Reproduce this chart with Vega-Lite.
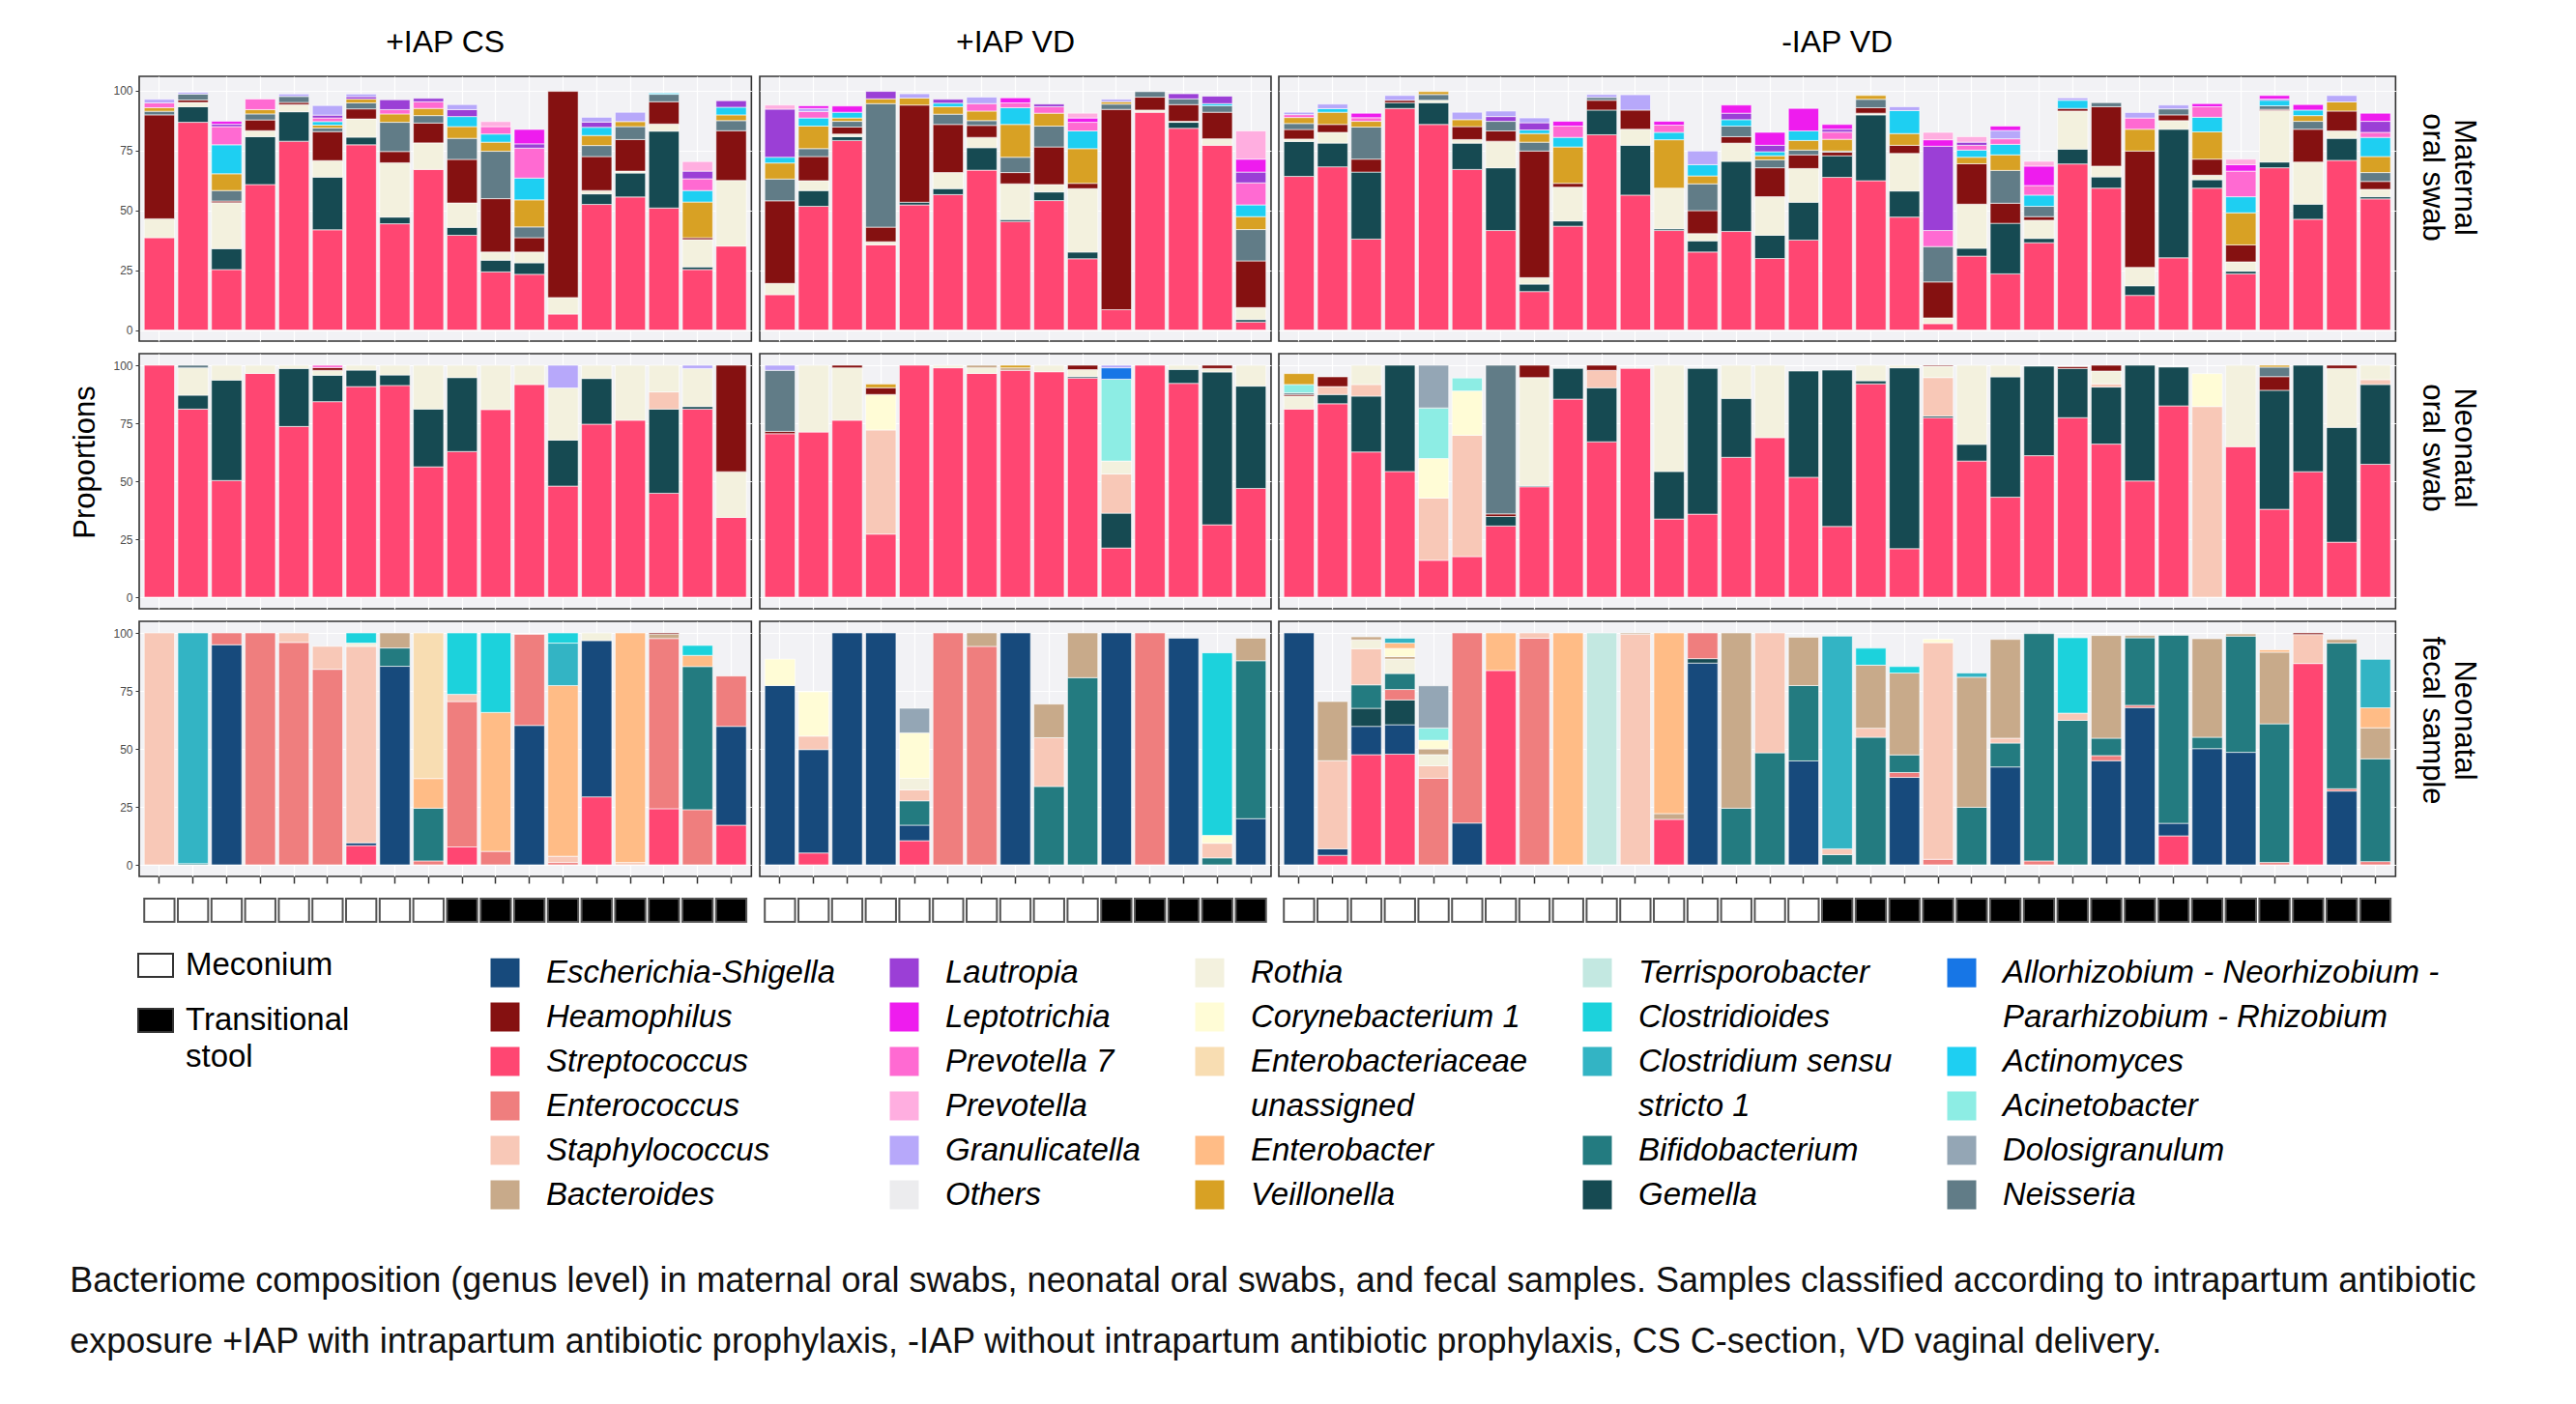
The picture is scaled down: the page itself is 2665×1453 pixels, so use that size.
{
"$schema":"https://vega.github.io/schema/vega-lite/v6.json",
"background":"white",
"padding":{"left":72,"top":27,"right":20,"bottom":20},
"config":{
 "font":"Liberation Sans",
 "view":{"stroke":"#333333","strokeWidth":1.6,"fill":"#F2F2F5"},
 "axis":{"domain":false,"gridColor":"#FFFFFF","gridWidth":1.2,"tickColor":"#333333","labelColor":"#4D4D4D","labelFontSize":12,"titleFontWeight":"normal","titleColor":"#000000","titleFontSize":31},
 "title":{"fontWeight":"normal","color":"#000000"}
},
"datasets":{
"genera":[
{"genus":"Streptococcus","level":1},{"genus":"Escherichia-Shigella","level":2},{"genus":"Gemella","level":3},{"genus":"Enterococcus","level":4},{"genus":"Bifidobacterium","level":5},{"genus":"Staphylococcus","level":6},{"genus":"Rothia","level":7},{"genus":"Bacteroides","level":8},{"genus":"Corynebacterium 1","level":9},{"genus":"Enterobacter","level":10},{"genus":"Enterobacteriaceae unassigned","level":11},{"genus":"Clostridium sensu stricto 1","level":12},{"genus":"Clostridioides","level":13},{"genus":"Terrisporobacter","level":14},{"genus":"Heamophilus","level":15},{"genus":"Neisseria","level":16},{"genus":"Acinetobacter","level":17},{"genus":"Dolosigranulum","level":18},{"genus":"Allorhizobium - Neorhizobium - Pararhizobium - Rhizobium","level":19},{"genus":"Veillonella","level":20},{"genus":"Actinomyces","level":21},{"genus":"Prevotella 7","level":22},{"genus":"Lautropia","level":23},{"genus":"Granulicatella","level":24},{"genus":"Leptotrichia","level":25},{"genus":"Prevotella","level":26},{"genus":"Others","level":27}
],
"bars":[
{"group":"+IAP CS","type":"Maternal oral swab","sample":1,"Streptococcus":38.6,"Rothia":7.9,"Heamophilus":43.4,"Neisseria":1.5,"Veillonella":1.5,"Prevotella 7":2,"Granulicatella":1.5},
{"group":"+IAP CS","type":"Maternal oral swab","sample":2,"Streptococcus":86.8,"Gemella":6.5,"Rothia":1.8,"Heamophilus":1,"Neisseria":2.5,"Granulicatella":0.7},
{"group":"+IAP CS","type":"Maternal oral swab","sample":3,"Streptococcus":25.3,"Gemella":8.7,"Rothia":19.2,"Heamophilus":0.7,"Neisseria":4.4,"Veillonella":7,"Actinomyces":12.1,"Prevotella 7":7.6,"Lautropia":1,"Leptotrichia":1.2},
{"group":"+IAP CS","type":"Maternal oral swab","sample":4,"Streptococcus":60.8,"Gemella":20,"Rothia":2.5,"Heamophilus":4.5,"Neisseria":2.5,"Veillonella":1.8,"Prevotella 7":4.4},
{"group":"+IAP CS","type":"Maternal oral swab","sample":5,"Streptococcus":78.9,"Gemella":12.3,"Rothia":3,"Heamophilus":0.9,"Neisseria":2.5,"Granulicatella":1},
{"group":"+IAP CS","type":"Maternal oral swab","sample":6,"Streptococcus":41.9,"Gemella":22,"Rothia":6.9,"Heamophilus":12.1,"Neisseria":1.5,"Veillonella":1.2,"Actinomyces":1.5,"Prevotella 7":1.5,"Lautropia":1.2,"Granulicatella":4},
{"group":"+IAP CS","type":"Maternal oral swab","sample":7,"Streptococcus":77.4,"Gemella":3.2,"Rothia":7.6,"Heamophilus":4.2,"Neisseria":2.5,"Veillonella":1.6,"Lautropia":1,"Granulicatella":1.1},
{"group":"+IAP CS","type":"Maternal oral swab","sample":8,"Streptococcus":44.4,"Gemella":2.8,"Rothia":22.7,"Heamophilus":4.7,"Neisseria":12.2,"Veillonella":3.5,"Prevotella 7":1.8,"Lautropia":4.1},
{"group":"+IAP CS","type":"Maternal oral swab","sample":9,"Streptococcus":67.1,"Rothia":11.1,"Heamophilus":8.3,"Neisseria":3.1,"Veillonella":3,"Prevotella 7":2.8,"Lautropia":1.4},
{"group":"+IAP CS","type":"Maternal oral swab","sample":10,"Streptococcus":39.6,"Gemella":3.3,"Rothia":10.2,"Heamophilus":18.2,"Neisseria":8.8,"Veillonella":4.9,"Actinomyces":4.2,"Lautropia":2.9,"Granulicatella":2.1},
{"group":"+IAP CS","type":"Maternal oral swab","sample":11,"Streptococcus":24.3,"Gemella":4.9,"Rothia":3.4,"Heamophilus":22.3,"Neisseria":19.8,"Veillonella":3.8,"Actinomyces":3.4,"Prevotella 7":3.1,"Prevotella":2.1},
{"group":"+IAP CS","type":"Maternal oral swab","sample":12,"Streptococcus":23.3,"Gemella":4.8,"Rothia":4.5,"Heamophilus":6,"Neisseria":4.5,"Veillonella":11.3,"Actinomyces":9.1,"Prevotella 7":12.5,"Lautropia":1.8,"Leptotrichia":6},
{"group":"+IAP CS","type":"Maternal oral swab","sample":13,"Streptococcus":6.7,"Rothia":6.9,"Heamophilus":86.1},
{"group":"+IAP CS","type":"Maternal oral swab","sample":14,"Streptococcus":52.5,"Gemella":4.4,"Rothia":1.4,"Heamophilus":14.2,"Neisseria":4.6,"Veillonella":4.2,"Actinomyces":3.4,"Lautropia":2.2,"Granulicatella":2},
{"group":"+IAP CS","type":"Maternal oral swab","sample":15,"Streptococcus":55.6,"Gemella":10,"Rothia":0.8,"Heamophilus":13.2,"Neisseria":5.4,"Veillonella":2.1,"Granulicatella":3.9},
{"group":"+IAP CS","type":"Maternal oral swab","sample":16,"Streptococcus":51,"Gemella":32.1,"Rothia":3,"Heamophilus":9.3,"Neisseria":3.1,"Actinomyces":0.5},
{"group":"+IAP CS","type":"Maternal oral swab","sample":17,"Streptococcus":25.3,"Gemella":1.1,"Rothia":11.4,"Heamophilus":0.8,"Veillonella":14.9,"Actinomyces":4.8,"Prevotella 7":4.9,"Lautropia":3.2,"Prevotella":4},
{"group":"+IAP CS","type":"Maternal oral swab","sample":18,"Streptococcus":35.1,"Rothia":27.4,"Heamophilus":20.8,"Neisseria":4.2,"Veillonella":2.4,"Actinomyces":3.2,"Lautropia":2.7},
{"group":"+IAP VD","type":"Maternal oral swab","sample":1,"Streptococcus":14.8,"Rothia":4.7,"Heamophilus":34.5,"Neisseria":9.1,"Veillonella":6.7,"Actinomyces":2.4,"Lautropia":20.1,"Prevotella":1.7},
{"group":"+IAP VD","type":"Maternal oral swab","sample":2,"Streptococcus":51.7,"Gemella":6.6,"Rothia":4.1,"Heamophilus":10.1,"Neisseria":3.3,"Veillonella":9.4,"Actinomyces":3.4,"Prevotella 7":2.7,"Granulicatella":1.3,"Leptotrichia":1.1},
{"group":"+IAP VD","type":"Maternal oral swab","sample":3,"Streptococcus":79.2,"Gemella":1.6,"Rothia":1.1,"Heamophilus":2.9,"Neisseria":2.4,"Veillonella":1.4,"Actinomyces":2.4,"Leptotrichia":2.6},
{"group":"+IAP VD","type":"Maternal oral swab","sample":4,"Streptococcus":35.6,"Rothia":1.3,"Heamophilus":6.1,"Neisseria":51.6,"Veillonella":2,"Lautropia":3.1},
{"group":"+IAP VD","type":"Maternal oral swab","sample":5,"Streptococcus":52.3,"Gemella":1.1,"Heamophilus":40.6,"Veillonella":2.9,"Granulicatella":1.8},
{"group":"+IAP VD","type":"Maternal oral swab","sample":6,"Streptococcus":56.6,"Gemella":2.5,"Rothia":6.7,"Heamophilus":20.1,"Neisseria":4.3,"Veillonella":3.1,"Actinomyces":1.5,"Lautropia":1.6},
{"group":"+IAP VD","type":"Maternal oral swab","sample":7,"Streptococcus":66.8,"Gemella":9.4,"Rothia":4.3,"Heamophilus":5,"Neisseria":2,"Veillonella":4,"Prevotella 7":3.1,"Granulicatella":2.7},
{"group":"+IAP VD","type":"Maternal oral swab","sample":8,"Streptococcus":45.4,"Gemella":0.8,"Rothia":14.9,"Heamophilus":4.7,"Neisseria":6.4,"Veillonella":13.7,"Actinomyces":7,"Prevotella 7":2,"Leptotrichia":2.1},
{"group":"+IAP VD","type":"Maternal oral swab","sample":9,"Streptococcus":54.1,"Gemella":3.6,"Rothia":3.1,"Heamophilus":15.7,"Neisseria":8.7,"Veillonella":5.4,"Prevotella 7":2.7,"Lautropia":1.1},
{"group":"+IAP VD","type":"Maternal oral swab","sample":10,"Streptococcus":29.8,"Gemella":2.8,"Rothia":26.5,"Heamophilus":2.2,"Veillonella":14.5,"Actinomyces":7.4,"Prevotella 7":3.6,"Leptotrichia":1.8,"Prevotella":2},
{"group":"+IAP VD","type":"Maternal oral swab","sample":11,"Streptococcus":8.5,"Heamophilus":83.7,"Neisseria":2.2,"Veillonella":1,"Granulicatella":1},
{"group":"+IAP VD","type":"Maternal oral swab","sample":12,"Streptococcus":91,"Rothia":0.9,"Heamophilus":5.4,"Neisseria":2.3},
{"group":"+IAP VD","type":"Maternal oral swab","sample":13,"Streptococcus":84.3,"Gemella":2.5,"Rothia":0.4,"Heamophilus":7,"Neisseria":2.4,"Lautropia":2.1},
{"group":"+IAP VD","type":"Maternal oral swab","sample":14,"Streptococcus":77.2,"Rothia":2.7,"Heamophilus":11.1,"Neisseria":2.7,"Actinomyces":0.9,"Lautropia":3.1},
{"group":"+IAP VD","type":"Maternal oral swab","sample":15,"Streptococcus":3.4,"Gemella":1,"Rothia":5,"Heamophilus":19.5,"Neisseria":13.1,"Veillonella":5.4,"Actinomyces":4.9,"Prevotella 7":9.2,"Lautropia":4.5,"Leptotrichia":5.4,"Prevotella":11.8},
{"group":"-IAP VD","type":"Maternal oral swab","sample":1,"Streptococcus":64.2,"Gemella":14.6,"Rothia":1,"Heamophilus":4,"Neisseria":2.5,"Veillonella":2.5,"Prevotella 7":1.2,"Granulicatella":1},
{"group":"-IAP VD","type":"Maternal oral swab","sample":2,"Streptococcus":68.2,"Gemella":9.9,"Rothia":4.5,"Heamophilus":3.3,"Veillonella":5.1,"Actinomyces":1.5,"Granulicatella":1.9},
{"group":"-IAP VD","type":"Maternal oral swab","sample":3,"Streptococcus":38,"Gemella":28,"Heamophilus":5.4,"Neisseria":13.4,"Veillonella":2.4,"Prevotella 7":1.5,"Leptotrichia":1.9},
{"group":"-IAP VD","type":"Maternal oral swab","sample":4,"Streptococcus":92.6,"Gemella":2.4,"Heamophilus":1,"Granulicatella":2},
{"group":"-IAP VD","type":"Maternal oral swab","sample":5,"Streptococcus":85.9,"Gemella":9.1,"Rothia":1,"Neisseria":2.4,"Veillonella":1.2},
{"group":"-IAP VD","type":"Maternal oral swab","sample":6,"Streptococcus":67.1,"Gemella":11,"Rothia":1.5,"Heamophilus":5.4,"Veillonella":2.9,"Granulicatella":3.1},
{"group":"-IAP VD","type":"Maternal oral swab","sample":7,"Streptococcus":41.6,"Gemella":26.2,"Rothia":11.1,"Heamophilus":4.3,"Neisseria":4,"Lautropia":2,"Granulicatella":2.3},
{"group":"-IAP VD","type":"Maternal oral swab","sample":8,"Streptococcus":16.1,"Gemella":3.1,"Rothia":2.7,"Heamophilus":52.9,"Neisseria":3.7,"Veillonella":3.6,"Actinomyces":1.5,"Lautropia":3,"Granulicatella":2},
{"group":"-IAP VD","type":"Maternal oral swab","sample":9,"Streptococcus":43.4,"Gemella":2.2,"Rothia":14.1,"Heamophilus":1.6,"Veillonella":15.2,"Actinomyces":4,"Prevotella 7":4.7,"Leptotrichia":2},
{"group":"-IAP VD","type":"Maternal oral swab","sample":10,"Streptococcus":81.6,"Gemella":10.3,"Heamophilus":4.1,"Neisseria":1.2,"Granulicatella":1.2},
{"group":"-IAP VD","type":"Maternal oral swab","sample":11,"Streptococcus":56.4,"Gemella":20.8,"Rothia":6.7,"Heamophilus":8,"Granulicatella":6.4},
{"group":"-IAP VD","type":"Maternal oral swab","sample":12,"Streptococcus":41.6,"Gemella":0.7,"Rothia":17,"Veillonella":20.2,"Actinomyces":3.1,"Prevotella 7":3,"Leptotrichia":1.6},
{"group":"-IAP VD","type":"Maternal oral swab","sample":13,"Streptococcus":32.6,"Gemella":4.7,"Rothia":3,"Heamophilus":9.6,"Neisseria":11.2,"Veillonella":3.3,"Actinomyces":4.7,"Granulicatella":5.7},
{"group":"-IAP VD","type":"Maternal oral swab","sample":14,"Streptococcus":41.2,"Gemella":29.3,"Rothia":7.6,"Heamophilus":2.7,"Neisseria":4.4,"Actinomyces":2.7,"Lautropia":2.7,"Leptotrichia":3.4},
{"group":"-IAP VD","type":"Maternal oral swab","sample":15,"Streptococcus":29.9,"Gemella":9.7,"Rothia":16.1,"Heamophilus":12.1,"Neisseria":3.3,"Veillonella":1.7,"Actinomyces":1.7,"Lautropia":2.7,"Leptotrichia":5.4},
{"group":"-IAP VD","type":"Maternal oral swab","sample":16,"Streptococcus":37.6,"Gemella":15.8,"Rothia":14.1,"Heamophilus":5.7,"Neisseria":2,"Veillonella":4,"Actinomyces":4,"Leptotrichia":9.4},
{"group":"-IAP VD","type":"Maternal oral swab","sample":17,"Streptococcus":63.8,"Gemella":9,"Heamophilus":1.5,"Neisseria":0.5,"Veillonella":4.9,"Prevotella 7":3,"Lautropia":1.2,"Leptotrichia":2},
{"group":"-IAP VD","type":"Maternal oral swab","sample":18,"Streptococcus":62.4,"Gemella":27.5,"Rothia":0.7,"Heamophilus":2.3,"Neisseria":3.5,"Veillonella":1.6},
{"group":"-IAP VD","type":"Maternal oral swab","sample":19,"Streptococcus":47.2,"Gemella":10.9,"Rothia":15.7,"Heamophilus":3.4,"Veillonella":4.9,"Actinomyces":9.6,"Granulicatella":1.6},
{"group":"-IAP VD","type":"Maternal oral swab","sample":20,"Streptococcus":2.7,"Rothia":2.4,"Heamophilus":15,"Neisseria":14.8,"Prevotella 7":6.7,"Lautropia":35.2,"Leptotrichia":2.7,"Prevotella":3.1},
{"group":"-IAP VD","type":"Maternal oral swab","sample":21,"Streptococcus":30.9,"Gemella":3.3,"Rothia":18.4,"Heamophilus":16.9,"Veillonella":2.7,"Actinomyces":3,"Prevotella 7":2,"Lautropia":1.3,"Prevotella":2.3},
{"group":"-IAP VD","type":"Maternal oral swab","sample":22,"Streptococcus":23.5,"Gemella":21.1,"Heamophilus":8.4,"Neisseria":13.7,"Veillonella":6.5,"Actinomyces":4.4,"Prevotella 7":2.3,"Granulicatella":3.5,"Leptotrichia":1.8},
{"group":"-IAP VD","type":"Maternal oral swab","sample":23,"Streptococcus":36.5,"Gemella":1.8,"Rothia":7.6,"Heamophilus":1.5,"Neisseria":4.3,"Actinomyces":4.7,"Prevotella 7":4,"Leptotrichia":8.1,"Prevotella":2},
{"group":"-IAP VD","type":"Maternal oral swab","sample":24,"Streptococcus":69.4,"Gemella":6.2,"Rothia":15.9,"Heamophilus":1.1,"Actinomyces":3.4,"Granulicatella":1},
{"group":"-IAP VD","type":"Maternal oral swab","sample":25,"Streptococcus":59.3,"Gemella":4.7,"Rothia":4.5,"Heamophilus":24.8,"Neisseria":1.7},
{"group":"-IAP VD","type":"Maternal oral swab","sample":26,"Streptococcus":14.5,"Gemella":4,"Rothia":7.7,"Heamophilus":48.6,"Veillonella":9.1,"Prevotella 7":4.7,"Granulicatella":2.3},
{"group":"-IAP VD","type":"Maternal oral swab","sample":27,"Streptococcus":30.2,"Gemella":53.7,"Rothia":3.6,"Heamophilus":2.4,"Neisseria":2.5,"Granulicatella":1.6},
{"group":"-IAP VD","type":"Maternal oral swab","sample":28,"Streptococcus":59.3,"Gemella":3.5,"Rothia":1.9,"Heamophilus":6.7,"Veillonella":11.4,"Actinomyces":6.1,"Prevotella 7":4.4,"Leptotrichia":1.3},
{"group":"-IAP VD","type":"Maternal oral swab","sample":29,"Streptococcus":23.5,"Gemella":1.1,"Rothia":3.9,"Heamophilus":7.1,"Veillonella":13.4,"Actinomyces":6.7,"Prevotella 7":10.7,"Leptotrichia":2.7,"Prevotella":2.3},
{"group":"-IAP VD","type":"Maternal oral swab","sample":30,"Streptococcus":67.8,"Gemella":2.4,"Rothia":21.5,"Heamophilus":0.5,"Neisseria":1.5,"Actinomyces":2.3,"Lautropia":0.5,"Leptotrichia":1.5},
{"group":"-IAP VD","type":"Maternal oral swab","sample":31,"Streptococcus":46.3,"Gemella":6.3,"Rothia":17.6,"Heamophilus":13.7,"Neisseria":3.3,"Veillonella":2.4,"Actinomyces":2.3,"Leptotrichia":2.3},
{"group":"-IAP VD","type":"Maternal oral swab","sample":32,"Streptococcus":70.9,"Gemella":9.2,"Rothia":3.1,"Heamophilus":8.3,"Veillonella":3.8,"Granulicatella":2.7},
{"group":"-IAP VD","type":"Maternal oral swab","sample":33,"Streptococcus":54.8,"Gemella":0.9,"Rothia":3.1,"Heamophilus":3.3,"Neisseria":3.7,"Veillonella":6.7,"Actinomyces":8,"Prevotella 7":2.1,"Lautropia":4.6,"Leptotrichia":3.4},
{"group":"+IAP CS","type":"Neonatal oral swab","sample":1,"Streptococcus":100},
{"group":"+IAP CS","type":"Neonatal oral swab","sample":2,"Streptococcus":81.1,"Gemella":6,"Rothia":11.8,"Neisseria":1.1},
{"group":"+IAP CS","type":"Neonatal oral swab","sample":3,"Streptococcus":50.3,"Gemella":43.3,"Rothia":6.4},
{"group":"+IAP CS","type":"Neonatal oral swab","sample":4,"Streptococcus":96.5,"Rothia":3.5},
{"group":"+IAP CS","type":"Neonatal oral swab","sample":5,"Streptococcus":73.6,"Gemella":25,"Rothia":1.4},
{"group":"+IAP CS","type":"Neonatal oral swab","sample":6,"Streptococcus":84.3,"Gemella":11.4,"Rothia":2.1,"Heamophilus":1.2,"Prevotella 7":1},
{"group":"+IAP CS","type":"Neonatal oral swab","sample":7,"Streptococcus":90.8,"Gemella":7.1,"Rothia":2.1},
{"group":"+IAP CS","type":"Neonatal oral swab","sample":8,"Streptococcus":91.3,"Gemella":4.5,"Rothia":4.2},
{"group":"+IAP CS","type":"Neonatal oral swab","sample":9,"Streptococcus":56.2,"Gemella":24.9,"Rothia":18.9},
{"group":"+IAP CS","type":"Neonatal oral swab","sample":10,"Streptococcus":62.8,"Gemella":31.9,"Rothia":5.3},
{"group":"+IAP CS","type":"Neonatal oral swab","sample":11,"Streptococcus":80.9,"Rothia":19.1},
{"group":"+IAP CS","type":"Neonatal oral swab","sample":12,"Streptococcus":91.7,"Rothia":8.3},
{"group":"+IAP CS","type":"Neonatal oral swab","sample":13,"Streptococcus":47.9,"Gemella":19.8,"Rothia":22.5,"Granulicatella":9.8},
{"group":"+IAP CS","type":"Neonatal oral swab","sample":14,"Streptococcus":74.6,"Gemella":19.7,"Rothia":5.7},
{"group":"+IAP CS","type":"Neonatal oral swab","sample":15,"Streptococcus":76.3,"Rothia":23.7},
{"group":"+IAP CS","type":"Neonatal oral swab","sample":16,"Streptococcus":44.8,"Gemella":36.3,"Staphylococcus":7.4,"Rothia":11.5},
{"group":"+IAP CS","type":"Neonatal oral swab","sample":17,"Streptococcus":81.1,"Gemella":1.1,"Rothia":16.4,"Granulicatella":1.4},
{"group":"+IAP CS","type":"Neonatal oral swab","sample":18,"Streptococcus":34.4,"Rothia":19.7,"Heamophilus":45.9},
{"group":"+IAP VD","type":"Neonatal oral swab","sample":1,"Streptococcus":70.5,"Neisseria":26.3,"Heamophilus":1,"Granulicatella":2.2},
{"group":"+IAP VD","type":"Neonatal oral swab","sample":2,"Streptococcus":71.2,"Rothia":28.8},
{"group":"+IAP VD","type":"Neonatal oral swab","sample":3,"Streptococcus":76.3,"Rothia":22.6,"Heamophilus":1.1},
{"group":"+IAP VD","type":"Neonatal oral swab","sample":4,"Streptococcus":27.2,"Staphylococcus":44.9,"Corynebacterium 1":15.3,"Heamophilus":2.9,"Veillonella":1.6},
{"group":"+IAP VD","type":"Neonatal oral swab","sample":5,"Streptococcus":100},
{"group":"+IAP VD","type":"Neonatal oral swab","sample":6,"Streptococcus":98.9,"Rothia":1.1},
{"group":"+IAP VD","type":"Neonatal oral swab","sample":7,"Streptococcus":96.5,"Rothia":2.4,"Bacteroides":1.1},
{"group":"+IAP VD","type":"Neonatal oral swab","sample":8,"Streptococcus":97.8,"Veillonella":1.1,"Bacteroides":1.1},
{"group":"+IAP VD","type":"Neonatal oral swab","sample":9,"Streptococcus":97.2,"Rothia":2.8},
{"group":"+IAP VD","type":"Neonatal oral swab","sample":10,"Streptococcus":94.5,"Gemella":0.6,"Rothia":3,"Heamophilus":1.9},
{"group":"+IAP VD","type":"Neonatal oral swab","sample":11,"Streptococcus":21.2,"Gemella":15,"Staphylococcus":16.9,"Rothia":5.6,"Acinetobacter":35.3,"Allorhizobium - Neorhizobium - Pararhizobium - Rhizobium":4.9,"Granulicatella":1.1},
{"group":"+IAP VD","type":"Neonatal oral swab","sample":12,"Streptococcus":100},
{"group":"+IAP VD","type":"Neonatal oral swab","sample":13,"Streptococcus":92.2,"Gemella":6,"Rothia":1.8},
{"group":"+IAP VD","type":"Neonatal oral swab","sample":14,"Streptococcus":31.2,"Gemella":65.9,"Rothia":1.5,"Heamophilus":1.4},
{"group":"+IAP VD","type":"Neonatal oral swab","sample":15,"Streptococcus":46.9,"Gemella":44.1,"Rothia":9},
{"group":"-IAP VD","type":"Neonatal oral swab","sample":1,"Streptococcus":81.1,"Heamophilus":0.7,"Rothia":5.6,"Neisseria":0.7,"Acinetobacter":3.6,"Veillonella":4.7},
{"group":"-IAP VD","type":"Neonatal oral swab","sample":2,"Streptococcus":83.4,"Gemella":4,"Staphylococcus":3.4,"Heamophilus":4.2},
{"group":"-IAP VD","type":"Neonatal oral swab","sample":3,"Streptococcus":62.6,"Gemella":24.1,"Staphylococcus":5,"Rothia":8.3},
{"group":"-IAP VD","type":"Neonatal oral swab","sample":4,"Streptococcus":54.2,"Gemella":45.8},
{"group":"-IAP VD","type":"Neonatal oral swab","sample":5,"Streptococcus":15.9,"Staphylococcus":26.8,"Corynebacterium 1":17.1,"Acinetobacter":21.8,"Dolosigranulum":18.4},
{"group":"-IAP VD","type":"Neonatal oral swab","sample":6,"Streptococcus":17.5,"Staphylococcus":52.3,"Corynebacterium 1":19.1,"Acinetobacter":5.6},
{"group":"-IAP VD","type":"Neonatal oral swab","sample":7,"Streptococcus":30.7,"Gemella":4.1,"Neisseria":64.1,"Heamophilus":1.1},
{"group":"-IAP VD","type":"Neonatal oral swab","sample":8,"Streptococcus":47.6,"Gemella":0.4,"Rothia":46.7,"Heamophilus":5.3},
{"group":"-IAP VD","type":"Neonatal oral swab","sample":9,"Streptococcus":85.4,"Gemella":13.2},
{"group":"-IAP VD","type":"Neonatal oral swab","sample":10,"Streptococcus":67,"Gemella":23.3,"Staphylococcus":7.5,"Heamophilus":2.2},
{"group":"-IAP VD","type":"Neonatal oral swab","sample":11,"Streptococcus":98.6},
{"group":"-IAP VD","type":"Neonatal oral swab","sample":12,"Streptococcus":33.7,"Gemella":20.5,"Rothia":45.8},
{"group":"-IAP VD","type":"Neonatal oral swab","sample":13,"Streptococcus":35.8,"Gemella":62.8},
{"group":"-IAP VD","type":"Neonatal oral swab","sample":14,"Streptococcus":60.3,"Gemella":25.4,"Rothia":14.3},
{"group":"-IAP VD","type":"Neonatal oral swab","sample":15,"Streptococcus":68.8,"Rothia":31.2},
{"group":"-IAP VD","type":"Neonatal oral swab","sample":16,"Streptococcus":51.7,"Gemella":45.8},
{"group":"-IAP VD","type":"Neonatal oral swab","sample":17,"Streptococcus":30.5,"Gemella":67.4},
{"group":"-IAP VD","type":"Neonatal oral swab","sample":18,"Streptococcus":92,"Gemella":1.3,"Rothia":6.7},
{"group":"-IAP VD","type":"Neonatal oral swab","sample":19,"Streptococcus":20.9,"Gemella":78,"Rothia":1.1},
{"group":"-IAP VD","type":"Neonatal oral swab","sample":20,"Streptococcus":77.4,"Gemella":0.7,"Staphylococcus":16.6,"Rothia":4.9,"Heamophilus":0.4},
{"group":"-IAP VD","type":"Neonatal oral swab","sample":21,"Streptococcus":58.7,"Gemella":7.2,"Rothia":34.1},
{"group":"-IAP VD","type":"Neonatal oral swab","sample":22,"Streptococcus":43.1,"Gemella":51.9,"Rothia":5},
{"group":"-IAP VD","type":"Neonatal oral swab","sample":23,"Streptococcus":61,"Gemella":38.6},
{"group":"-IAP VD","type":"Neonatal oral swab","sample":24,"Streptococcus":77.4,"Gemella":21.2,"Heamophilus":0.8},
{"group":"-IAP VD","type":"Neonatal oral swab","sample":25,"Streptococcus":66,"Gemella":24.6,"Staphylococcus":1.4,"Rothia":5.5,"Heamophilus":2.5},
{"group":"-IAP VD","type":"Neonatal oral swab","sample":26,"Streptococcus":50.1,"Gemella":49.9},
{"group":"-IAP VD","type":"Neonatal oral swab","sample":27,"Streptococcus":82.5,"Gemella":16.7},
{"group":"-IAP VD","type":"Neonatal oral swab","sample":28,"Staphylococcus":82.2,"Corynebacterium 1":14.2},
{"group":"-IAP VD","type":"Neonatal oral swab","sample":29,"Streptococcus":64.9,"Rothia":35.1},
{"group":"-IAP VD","type":"Neonatal oral swab","sample":30,"Streptococcus":37.9,"Gemella":51.3,"Neisseria":4.1,"Heamophilus":5.9,"Veillonella":0.8},
{"group":"-IAP VD","type":"Neonatal oral swab","sample":31,"Streptococcus":54.1,"Gemella":45.9},
{"group":"-IAP VD","type":"Neonatal oral swab","sample":32,"Streptococcus":23.7,"Gemella":49.5,"Rothia":25.4,"Heamophilus":1.4},
{"group":"-IAP VD","type":"Neonatal oral swab","sample":33,"Streptococcus":57.3,"Gemella":34.4,"Staphylococcus":2.1,"Rothia":6.2},
{"group":"+IAP CS","type":"Neonatal fecal sample","sample":1,"Staphylococcus":100},
{"group":"+IAP CS","type":"Neonatal fecal sample","sample":2,"Bifidobacterium":0.5,"Clostridium sensu stricto 1":99.5},
{"group":"+IAP CS","type":"Neonatal fecal sample","sample":3,"Escherichia-Shigella":94.9,"Enterococcus":5.1},
{"group":"+IAP CS","type":"Neonatal fecal sample","sample":4,"Enterococcus":100},
{"group":"+IAP CS","type":"Neonatal fecal sample","sample":5,"Enterococcus":95.9,"Staphylococcus":4.1},
{"group":"+IAP CS","type":"Neonatal fecal sample","sample":6,"Enterococcus":84.3,"Staphylococcus":9.9},
{"group":"+IAP CS","type":"Neonatal fecal sample","sample":7,"Streptococcus":8.3,"Escherichia-Shigella":1.2,"Staphylococcus":84.7,"Rothia":1.4,"Clostridioides":4.4},
{"group":"+IAP CS","type":"Neonatal fecal sample","sample":8,"Escherichia-Shigella":85.6,"Bifidobacterium":7.9,"Bacteroides":6.5},
{"group":"+IAP CS","type":"Neonatal fecal sample","sample":9,"Enterococcus":1.7,"Bifidobacterium":22.7,"Enterobacter":12.8,"Enterobacteriaceae unassigned":62.8},
{"group":"+IAP CS","type":"Neonatal fecal sample","sample":10,"Streptococcus":7.7,"Enterococcus":62.7,"Staphylococcus":3.1,"Clostridioides":26.5},
{"group":"+IAP CS","type":"Neonatal fecal sample","sample":11,"Enterococcus":5.8,"Enterobacter":59.9,"Clostridioides":34.3},
{"group":"+IAP CS","type":"Neonatal fecal sample","sample":12,"Escherichia-Shigella":60.1,"Enterococcus":39.3},
{"group":"+IAP CS","type":"Neonatal fecal sample","sample":13,"Enterococcus":1,"Staphylococcus":2.7,"Enterobacter":73.6,"Clostridium sensu stricto 1":18.3,"Clostridioides":4.4},
{"group":"+IAP CS","type":"Neonatal fecal sample","sample":14,"Streptococcus":29.3,"Escherichia-Shigella":67.4,"Rothia":3.3},
{"group":"+IAP CS","type":"Neonatal fecal sample","sample":15,"Staphylococcus":1,"Enterobacter":99},
{"group":"+IAP CS","type":"Neonatal fecal sample","sample":16,"Streptococcus":24.2,"Enterococcus":73.4,"Bacteroides":1.9,"Heamophilus":0.5},
{"group":"+IAP CS","type":"Neonatal fecal sample","sample":17,"Enterococcus":23.8,"Bifidobacterium":61.7,"Enterobacter":4.8,"Clostridioides":4.3},
{"group":"+IAP CS","type":"Neonatal fecal sample","sample":18,"Streptococcus":17.1,"Escherichia-Shigella":42.6,"Enterococcus":21.7},
{"group":"+IAP VD","type":"Neonatal fecal sample","sample":1,"Escherichia-Shigella":77.3,"Corynebacterium 1":11.4},
{"group":"+IAP VD","type":"Neonatal fecal sample","sample":2,"Streptococcus":5.1,"Escherichia-Shigella":44.6,"Staphylococcus":5.8,"Corynebacterium 1":19.1},
{"group":"+IAP VD","type":"Neonatal fecal sample","sample":3,"Escherichia-Shigella":100},
{"group":"+IAP VD","type":"Neonatal fecal sample","sample":4,"Escherichia-Shigella":100},
{"group":"+IAP VD","type":"Neonatal fecal sample","sample":5,"Streptococcus":10.4,"Escherichia-Shigella":6.7,"Bifidobacterium":10.5,"Staphylococcus":4.7,"Rothia":5,"Corynebacterium 1":19.6,"Dolosigranulum":10.6},
{"group":"+IAP VD","type":"Neonatal fecal sample","sample":6,"Enterococcus":100},
{"group":"+IAP VD","type":"Neonatal fecal sample","sample":7,"Enterococcus":94.2,"Bacteroides":5.8},
{"group":"+IAP VD","type":"Neonatal fecal sample","sample":8,"Escherichia-Shigella":100},
{"group":"+IAP VD","type":"Neonatal fecal sample","sample":9,"Bifidobacterium":33.8,"Staphylococcus":21,"Bacteroides":14.5},
{"group":"+IAP VD","type":"Neonatal fecal sample","sample":10,"Bifidobacterium":80.7,"Bacteroides":19.3},
{"group":"+IAP VD","type":"Neonatal fecal sample","sample":11,"Escherichia-Shigella":100},
{"group":"+IAP VD","type":"Neonatal fecal sample","sample":12,"Enterococcus":100},
{"group":"+IAP VD","type":"Neonatal fecal sample","sample":13,"Escherichia-Shigella":97.7},
{"group":"+IAP VD","type":"Neonatal fecal sample","sample":14,"Bifidobacterium":3,"Staphylococcus":6.3,"Clostridioides":78.7,"Corynebacterium 1":3.4},
{"group":"+IAP VD","type":"Neonatal fecal sample","sample":15,"Escherichia-Shigella":19.9,"Bifidobacterium":68.1,"Bacteroides":9.7},
{"group":"-IAP VD","type":"Neonatal fecal sample","sample":1,"Escherichia-Shigella":100},
{"group":"-IAP VD","type":"Neonatal fecal sample","sample":2,"Streptococcus":4.1,"Escherichia-Shigella":2.8,"Staphylococcus":38,"Bacteroides":25.5},
{"group":"-IAP VD","type":"Neonatal fecal sample","sample":3,"Streptococcus":47.5,"Escherichia-Shigella":12.2,"Gemella":7.8,"Bifidobacterium":10.1,"Staphylococcus":15.6,"Rothia":3.8,"Bacteroides":1.3},
{"group":"-IAP VD","type":"Neonatal fecal sample","sample":4,"Streptococcus":47.7,"Escherichia-Shigella":12.7,"Gemella":10.7,"Enterococcus":4.5,"Bifidobacterium":6.9,"Rothia":6.2,"Bacteroides":1.1,"Enterobacter":2.3,"Clostridium sensu stricto 1":2.1,"Corynebacterium 1":3.5},
{"group":"-IAP VD","type":"Neonatal fecal sample","sample":5,"Enterococcus":37.3,"Staphylococcus":5.4,"Rothia":4.8,"Bacteroides":2.5,"Corynebacterium 1":3.7,"Acinetobacter":5.3,"Dolosigranulum":18.2},
{"group":"-IAP VD","type":"Neonatal fecal sample","sample":6,"Escherichia-Shigella":18,"Enterococcus":82},
{"group":"-IAP VD","type":"Neonatal fecal sample","sample":7,"Streptococcus":83.8,"Enterobacter":16.2},
{"group":"-IAP VD","type":"Neonatal fecal sample","sample":8,"Enterococcus":97.7,"Staphylococcus":2.3},
{"group":"-IAP VD","type":"Neonatal fecal sample","sample":9,"Enterobacter":100},
{"group":"-IAP VD","type":"Neonatal fecal sample","sample":10,"Terrisporobacter":100},
{"group":"-IAP VD","type":"Neonatal fecal sample","sample":11,"Staphylococcus":99.5,"Bacteroides":0.5},
{"group":"-IAP VD","type":"Neonatal fecal sample","sample":12,"Streptococcus":19.6,"Bacteroides":2.5,"Enterobacter":77.9},
{"group":"-IAP VD","type":"Neonatal fecal sample","sample":13,"Escherichia-Shigella":87,"Enterococcus":11.1,"Gemella":1.9},
{"group":"-IAP VD","type":"Neonatal fecal sample","sample":14,"Bifidobacterium":24.4,"Bacteroides":75.6},
{"group":"-IAP VD","type":"Neonatal fecal sample","sample":15,"Bifidobacterium":48.3,"Staphylococcus":51.7},
{"group":"-IAP VD","type":"Neonatal fecal sample","sample":16,"Escherichia-Shigella":44.8,"Bifidobacterium":32.5,"Bacteroides":20.8},
{"group":"-IAP VD","type":"Neonatal fecal sample","sample":17,"Bifidobacterium":4.4,"Staphylococcus":2.5,"Clostridium sensu stricto 1":91.7},
{"group":"-IAP VD","type":"Neonatal fecal sample","sample":18,"Bifidobacterium":55,"Staphylococcus":3.9,"Bacteroides":27.2,"Clostridioides":7.3},
{"group":"-IAP VD","type":"Neonatal fecal sample","sample":19,"Escherichia-Shigella":37.7,"Enterococcus":2.1,"Bifidobacterium":7.6,"Bacteroides":35.3,"Clostridioides":2.8},
{"group":"-IAP VD","type":"Neonatal fecal sample","sample":20,"Enterococcus":2.4,"Staphylococcus":93.4,"Corynebacterium 1":1.5},
{"group":"-IAP VD","type":"Neonatal fecal sample","sample":21,"Bifidobacterium":24.8,"Bacteroides":56.1,"Clostridium sensu stricto 1":1.8},
{"group":"-IAP VD","type":"Neonatal fecal sample","sample":22,"Escherichia-Shigella":42.2,"Bifidobacterium":10.3,"Staphylococcus":2.1,"Bacteroides":42.6},
{"group":"-IAP VD","type":"Neonatal fecal sample","sample":23,"Enterococcus":1.7,"Bifidobacterium":98},
{"group":"-IAP VD","type":"Neonatal fecal sample","sample":24,"Bifidobacterium":62.3,"Staphylococcus":3.1,"Clostridioides":32.5},
{"group":"-IAP VD","type":"Neonatal fecal sample","sample":25,"Escherichia-Shigella":44.9,"Enterococcus":2.2,"Bifidobacterium":7.5,"Bacteroides":44.3},
{"group":"-IAP VD","type":"Neonatal fecal sample","sample":26,"Enterococcus":1,"Escherichia-Shigella":67.8,"Bifidobacterium":29.1,"Bacteroides":1},
{"group":"-IAP VD","type":"Neonatal fecal sample","sample":27,"Streptococcus":12.5,"Escherichia-Shigella":5.4,"Bifidobacterium":81.1},
{"group":"-IAP VD","type":"Neonatal fecal sample","sample":28,"Escherichia-Shigella":50.1,"Bifidobacterium":4.9,"Bacteroides":42.5},
{"group":"-IAP VD","type":"Neonatal fecal sample","sample":29,"Escherichia-Shigella":48.5,"Bifidobacterium":50.1,"Bacteroides":1},
{"group":"-IAP VD","type":"Neonatal fecal sample","sample":30,"Enterococcus":1,"Bifidobacterium":59.8,"Bacteroides":30.9,"Enterobacter":1},
{"group":"-IAP VD","type":"Neonatal fecal sample","sample":31,"Streptococcus":86.8,"Heamophilus":0.7,"Staphylococcus":12.5},
{"group":"-IAP VD","type":"Neonatal fecal sample","sample":32,"Enterococcus":1,"Escherichia-Shigella":31.8,"Bifidobacterium":62.8,"Bacteroides":1.6},
{"group":"-IAP VD","type":"Neonatal fecal sample","sample":33,"Enterococcus":1.4,"Bifidobacterium":44.3,"Bacteroides":13.4,"Enterobacter":8.6,"Clostridium sensu stricto 1":20.9}
],
"stool":[
{"group":"+IAP CS","sample":1,"stool":"Meconium"},{"group":"+IAP CS","sample":2,"stool":"Meconium"},{"group":"+IAP CS","sample":3,"stool":"Meconium"},{"group":"+IAP CS","sample":4,"stool":"Meconium"},{"group":"+IAP CS","sample":5,"stool":"Meconium"},{"group":"+IAP CS","sample":6,"stool":"Meconium"},{"group":"+IAP CS","sample":7,"stool":"Meconium"},{"group":"+IAP CS","sample":8,"stool":"Meconium"},{"group":"+IAP CS","sample":9,"stool":"Meconium"},
{"group":"+IAP CS","sample":10,"stool":"Transitional stool"},{"group":"+IAP CS","sample":11,"stool":"Transitional stool"},{"group":"+IAP CS","sample":12,"stool":"Transitional stool"},{"group":"+IAP CS","sample":13,"stool":"Transitional stool"},{"group":"+IAP CS","sample":14,"stool":"Transitional stool"},{"group":"+IAP CS","sample":15,"stool":"Transitional stool"},{"group":"+IAP CS","sample":16,"stool":"Transitional stool"},{"group":"+IAP CS","sample":17,"stool":"Transitional stool"},{"group":"+IAP CS","sample":18,"stool":"Transitional stool"},
{"group":"+IAP VD","sample":1,"stool":"Meconium"},{"group":"+IAP VD","sample":2,"stool":"Meconium"},{"group":"+IAP VD","sample":3,"stool":"Meconium"},{"group":"+IAP VD","sample":4,"stool":"Meconium"},{"group":"+IAP VD","sample":5,"stool":"Meconium"},{"group":"+IAP VD","sample":6,"stool":"Meconium"},{"group":"+IAP VD","sample":7,"stool":"Meconium"},{"group":"+IAP VD","sample":8,"stool":"Meconium"},{"group":"+IAP VD","sample":9,"stool":"Meconium"},{"group":"+IAP VD","sample":10,"stool":"Meconium"},
{"group":"+IAP VD","sample":11,"stool":"Transitional stool"},{"group":"+IAP VD","sample":12,"stool":"Transitional stool"},{"group":"+IAP VD","sample":13,"stool":"Transitional stool"},{"group":"+IAP VD","sample":14,"stool":"Transitional stool"},{"group":"+IAP VD","sample":15,"stool":"Transitional stool"},
{"group":"-IAP VD","sample":1,"stool":"Meconium"},{"group":"-IAP VD","sample":2,"stool":"Meconium"},{"group":"-IAP VD","sample":3,"stool":"Meconium"},{"group":"-IAP VD","sample":4,"stool":"Meconium"},{"group":"-IAP VD","sample":5,"stool":"Meconium"},{"group":"-IAP VD","sample":6,"stool":"Meconium"},{"group":"-IAP VD","sample":7,"stool":"Meconium"},{"group":"-IAP VD","sample":8,"stool":"Meconium"},{"group":"-IAP VD","sample":9,"stool":"Meconium"},{"group":"-IAP VD","sample":10,"stool":"Meconium"},{"group":"-IAP VD","sample":11,"stool":"Meconium"},{"group":"-IAP VD","sample":12,"stool":"Meconium"},{"group":"-IAP VD","sample":13,"stool":"Meconium"},{"group":"-IAP VD","sample":14,"stool":"Meconium"},{"group":"-IAP VD","sample":15,"stool":"Meconium"},{"group":"-IAP VD","sample":16,"stool":"Meconium"},
{"group":"-IAP VD","sample":17,"stool":"Transitional stool"},{"group":"-IAP VD","sample":18,"stool":"Transitional stool"},{"group":"-IAP VD","sample":19,"stool":"Transitional stool"},{"group":"-IAP VD","sample":20,"stool":"Transitional stool"},{"group":"-IAP VD","sample":21,"stool":"Transitional stool"},{"group":"-IAP VD","sample":22,"stool":"Transitional stool"},{"group":"-IAP VD","sample":23,"stool":"Transitional stool"},{"group":"-IAP VD","sample":24,"stool":"Transitional stool"},{"group":"-IAP VD","sample":25,"stool":"Transitional stool"},{"group":"-IAP VD","sample":26,"stool":"Transitional stool"},{"group":"-IAP VD","sample":27,"stool":"Transitional stool"},{"group":"-IAP VD","sample":28,"stool":"Transitional stool"},{"group":"-IAP VD","sample":29,"stool":"Transitional stool"},{"group":"-IAP VD","sample":30,"stool":"Transitional stool"},{"group":"-IAP VD","sample":31,"stool":"Transitional stool"},{"group":"-IAP VD","sample":32,"stool":"Transitional stool"},{"group":"-IAP VD","sample":33,"stool":"Transitional stool"}
]
},
"data":{"name":"bars"},
"transform":[
 {"fold":["Streptococcus","Escherichia-Shigella","Gemella","Enterococcus","Bifidobacterium","Staphylococcus","Rothia","Bacteroides","Corynebacterium 1","Enterobacter","Enterobacteriaceae unassigned","Clostridium sensu stricto 1","Clostridioides","Terrisporobacter","Heamophilus","Neisseria","Acinetobacter","Dolosigranulum","Allorhizobium - Neorhizobium - Pararhizobium - Rhizobium","Veillonella","Actinomyces","Prevotella 7","Lautropia","Granulicatella","Leptotrichia","Prevotella"],"as":["genus","pct"]},
 {"filter":"isValid(datum.pct) && datum.pct > 0"},
 {"lookup":"genus","from":{"data":{"name":"genera"},"key":"genus","fields":["level"]}}
],
"title":{"text":["Bacteriome composition (genus level) in maternal oral swabs, neonatal oral swabs, and fecal samples. Samples classified according to intrapartum antibiotic","exposure +IAP with intrapartum antibiotic prophylaxis, -IAP without intrapartum antibiotic prophylaxis, CS C-section, VD vaginal delivery."],"orient":"bottom","anchor":"start","frame":"bounds","fontSize":36,"lineHeight":63,"offset":55,"color":"#111111"},
"columns":3,
"bounds":"flush",
"align":"each",
"spacing":{"row":13,"column":8},
"resolve":{"scale":{"x":"independent","y":"independent"}},
"concat":[
{"title":{"text":"+IAP CS","fontSize":32,"offset":18},
 "transform":[{"filter":"datum.type=='Maternal oral swab' && datum.group=='+IAP CS'"}],
 "width":{"step":34.8},"height":274,
 "mark":{"type":"bar","stroke":"#FFFFFF","strokeWidth":0.6},
 "encoding":{
  "x":{"field":"sample","type":"ordinal","scale":{"paddingInner":0.1,"paddingOuter":0.15},"axis":{"labels":false,"ticks":false,"title":null,"grid":true,"bandPosition":0.5}},
  "y":{"field":"pct","type":"quantitative","stack":"zero","scale":{"domain":[-4.6,106],"nice":false,"zero":false},"axis":{"values":[0,25,50,75,100],"tickSize":4,"labelPadding":3,"grid":true,"title":null}},
  "order":{"field":"level","type":"quantitative","sort":"ascending"},
  "color":{"field":"genus","type":"nominal",
   "scale":{"domain":["Escherichia-Shigella","Heamophilus","Streptococcus","Enterococcus","Staphylococcus","Bacteroides","Lautropia","Leptotrichia","Prevotella 7","Prevotella","Granulicatella","Others","Rothia","Corynebacterium 1","Enterobacteriaceae unassigned","unassigned","Enterobacter","Veillonella","Terrisporobacter","Clostridioides","Clostridium sensu stricto 1","stricto 1","Bifidobacterium","Gemella","Allorhizobium - Neorhizobium - Pararhizobium - Rhizobium","Pararhizobium - Rhizobium","Actinomyces","Acinetobacter","Dolosigranulum","Neisseria"],
    "range":["#174A7C","#851111","#FF4672","#EF7E7E","#F8C8B7","#C8AA8A","#9B3FD6","#EE1CEE","#FF6AD2","#FFAEE0","#B7A8FA","#ECECEE","#F3F1DE","#FFFCD6","#F8DDB2","rgba(0,0,0,0)","#FFBC86","#D8A124","#C3E8E1","#1CD2DC","#33B4C4","rgba(0,0,0,0)","#237B80","#164A52","#1776E6","rgba(0,0,0,0)","#1ECFF2","#8DEDE4","#94A6B5","#617C87"]},
   "legend":{"title":null,"orient":"none","legendX":362,"legendY":911,"columns":5,"symbolType":"square","symbolSize":900,"symbolStrokeWidth":0,"labelFontSize":33,"labelFontStyle":"italic","labelColor":"#000000","labelOffset":26,"labelLimit":1000,"rowPadding":12,"columnPadding":55,"gridAlign":"each",
    "labelExpr":"datum.value == 'Allorhizobium - Neorhizobium - Pararhizobium - Rhizobium' ? 'Allorhizobium - Neorhizobium -' : datum.value == 'Enterobacteriaceae unassigned' ? 'Enterobacteriaceae' : datum.value == 'Clostridium sensu stricto 1' ? 'Clostridium sensu' : datum.label"}}
 }},
{"title":{"text":"+IAP VD","fontSize":32,"offset":18},
 "transform":[{"filter":"datum.type=='Maternal oral swab' && datum.group=='+IAP VD'"}],
 "width":{"step":34.8},"height":274,
 "mark":{"type":"bar","stroke":"#FFFFFF","strokeWidth":0.6},
 "encoding":{
  "x":{"field":"sample","type":"ordinal","scale":{"paddingInner":0.1,"paddingOuter":0.15},"axis":{"labels":false,"ticks":false,"title":null,"grid":true,"bandPosition":0.5}},
  "y":{"field":"pct","type":"quantitative","stack":"zero","scale":{"domain":[-4.6,106],"nice":false,"zero":false},"axis":{"values":[0,25,50,75,100],"labels":false,"ticks":false,"grid":true,"title":null}},
  "order":{"field":"level","type":"quantitative","sort":"ascending"},
  "color":{"field":"genus","type":"nominal",
   "scale":{"domain":["Escherichia-Shigella","Heamophilus","Streptococcus","Enterococcus","Staphylococcus","Bacteroides","Lautropia","Leptotrichia","Prevotella 7","Prevotella","Granulicatella","Others","Rothia","Corynebacterium 1","Enterobacteriaceae unassigned","unassigned","Enterobacter","Veillonella","Terrisporobacter","Clostridioides","Clostridium sensu stricto 1","stricto 1","Bifidobacterium","Gemella","Allorhizobium - Neorhizobium - Pararhizobium - Rhizobium","Pararhizobium - Rhizobium","Actinomyces","Acinetobacter","Dolosigranulum","Neisseria"],
    "range":["#174A7C","#851111","#FF4672","#EF7E7E","#F8C8B7","#C8AA8A","#9B3FD6","#EE1CEE","#FF6AD2","#FFAEE0","#B7A8FA","#ECECEE","#F3F1DE","#FFFCD6","#F8DDB2","rgba(0,0,0,0)","#FFBC86","#D8A124","#C3E8E1","#1CD2DC","#33B4C4","rgba(0,0,0,0)","#237B80","#164A52","#1776E6","rgba(0,0,0,0)","#1ECFF2","#8DEDE4","#94A6B5","#617C87"]}}
 }},
{"title":{"text":"-IAP VD","fontSize":32,"offset":18},
 "transform":[{"filter":"datum.type=='Maternal oral swab' && datum.group=='-IAP VD'"}],
 "width":{"step":34.8},"height":274,
 "mark":{"type":"bar","stroke":"#FFFFFF","strokeWidth":0.6},
 "encoding":{
  "x":{"field":"sample","type":"ordinal","scale":{"paddingInner":0.1,"paddingOuter":0.15},"axis":{"labels":false,"ticks":false,"title":null,"grid":true,"bandPosition":0.5}},
  "y":{"field":"pct","type":"quantitative","stack":"zero","scale":{"domain":[-4.6,106],"nice":false,"zero":false},"axis":{"orient":"right","values":[0,25,50,75,100],"labels":false,"ticks":false,"grid":true,"title":["Maternal","oral swab"],"titleAngle":90,"titlePadding":21,"titleY":104}},
  "order":{"field":"level","type":"quantitative","sort":"ascending"},
  "color":{"field":"genus","type":"nominal",
   "scale":{"domain":["Escherichia-Shigella","Heamophilus","Streptococcus","Enterococcus","Staphylococcus","Bacteroides","Lautropia","Leptotrichia","Prevotella 7","Prevotella","Granulicatella","Others","Rothia","Corynebacterium 1","Enterobacteriaceae unassigned","unassigned","Enterobacter","Veillonella","Terrisporobacter","Clostridioides","Clostridium sensu stricto 1","stricto 1","Bifidobacterium","Gemella","Allorhizobium - Neorhizobium - Pararhizobium - Rhizobium","Pararhizobium - Rhizobium","Actinomyces","Acinetobacter","Dolosigranulum","Neisseria"],
    "range":["#174A7C","#851111","#FF4672","#EF7E7E","#F8C8B7","#C8AA8A","#9B3FD6","#EE1CEE","#FF6AD2","#FFAEE0","#B7A8FA","#ECECEE","#F3F1DE","#FFFCD6","#F8DDB2","rgba(0,0,0,0)","#FFBC86","#D8A124","#C3E8E1","#1CD2DC","#33B4C4","rgba(0,0,0,0)","#237B80","#164A52","#1776E6","rgba(0,0,0,0)","#1ECFF2","#8DEDE4","#94A6B5","#617C87"]}}
 }},
{"transform":[{"filter":"datum.type=='Neonatal oral swab' && datum.group=='+IAP CS'"}],
 "width":{"step":34.8},"height":264,
 "mark":{"type":"bar","stroke":"#FFFFFF","strokeWidth":0.6},
 "encoding":{
  "x":{"field":"sample","type":"ordinal","scale":{"paddingInner":0.1,"paddingOuter":0.15},"axis":{"labels":false,"ticks":false,"title":null,"grid":true,"bandPosition":0.5}},
  "y":{"field":"pct","type":"quantitative","stack":"zero","scale":{"domain":[-5,105],"nice":false,"zero":false},"axis":{"values":[0,25,50,75,100],"tickSize":4,"labelPadding":3,"grid":true,"title":"Proportions","titlePadding":12,"titleY":112}},
  "order":{"field":"level","type":"quantitative","sort":"ascending"},
  "color":{"field":"genus","type":"nominal",
   "scale":{"domain":["Escherichia-Shigella","Heamophilus","Streptococcus","Enterococcus","Staphylococcus","Bacteroides","Lautropia","Leptotrichia","Prevotella 7","Prevotella","Granulicatella","Others","Rothia","Corynebacterium 1","Enterobacteriaceae unassigned","unassigned","Enterobacter","Veillonella","Terrisporobacter","Clostridioides","Clostridium sensu stricto 1","stricto 1","Bifidobacterium","Gemella","Allorhizobium - Neorhizobium - Pararhizobium - Rhizobium","Pararhizobium - Rhizobium","Actinomyces","Acinetobacter","Dolosigranulum","Neisseria"],
    "range":["#174A7C","#851111","#FF4672","#EF7E7E","#F8C8B7","#C8AA8A","#9B3FD6","#EE1CEE","#FF6AD2","#FFAEE0","#B7A8FA","#ECECEE","#F3F1DE","#FFFCD6","#F8DDB2","rgba(0,0,0,0)","#FFBC86","#D8A124","#C3E8E1","#1CD2DC","#33B4C4","rgba(0,0,0,0)","#237B80","#164A52","#1776E6","rgba(0,0,0,0)","#1ECFF2","#8DEDE4","#94A6B5","#617C87"]}}
 }},
{"transform":[{"filter":"datum.type=='Neonatal oral swab' && datum.group=='+IAP VD'"}],
 "width":{"step":34.8},"height":264,
 "mark":{"type":"bar","stroke":"#FFFFFF","strokeWidth":0.6},
 "encoding":{
  "x":{"field":"sample","type":"ordinal","scale":{"paddingInner":0.1,"paddingOuter":0.15},"axis":{"labels":false,"ticks":false,"title":null,"grid":true,"bandPosition":0.5}},
  "y":{"field":"pct","type":"quantitative","stack":"zero","scale":{"domain":[-5,105],"nice":false,"zero":false},"axis":{"values":[0,25,50,75,100],"labels":false,"ticks":false,"grid":true,"title":null}},
  "order":{"field":"level","type":"quantitative","sort":"ascending"},
  "color":{"field":"genus","type":"nominal",
   "scale":{"domain":["Escherichia-Shigella","Heamophilus","Streptococcus","Enterococcus","Staphylococcus","Bacteroides","Lautropia","Leptotrichia","Prevotella 7","Prevotella","Granulicatella","Others","Rothia","Corynebacterium 1","Enterobacteriaceae unassigned","unassigned","Enterobacter","Veillonella","Terrisporobacter","Clostridioides","Clostridium sensu stricto 1","stricto 1","Bifidobacterium","Gemella","Allorhizobium - Neorhizobium - Pararhizobium - Rhizobium","Pararhizobium - Rhizobium","Actinomyces","Acinetobacter","Dolosigranulum","Neisseria"],
    "range":["#174A7C","#851111","#FF4672","#EF7E7E","#F8C8B7","#C8AA8A","#9B3FD6","#EE1CEE","#FF6AD2","#FFAEE0","#B7A8FA","#ECECEE","#F3F1DE","#FFFCD6","#F8DDB2","rgba(0,0,0,0)","#FFBC86","#D8A124","#C3E8E1","#1CD2DC","#33B4C4","rgba(0,0,0,0)","#237B80","#164A52","#1776E6","rgba(0,0,0,0)","#1ECFF2","#8DEDE4","#94A6B5","#617C87"]}}
 }},
{"transform":[{"filter":"datum.type=='Neonatal oral swab' && datum.group=='-IAP VD'"}],
 "width":{"step":34.8},"height":264,
 "mark":{"type":"bar","stroke":"#FFFFFF","strokeWidth":0.6},
 "encoding":{
  "x":{"field":"sample","type":"ordinal","scale":{"paddingInner":0.1,"paddingOuter":0.15},"axis":{"labels":false,"ticks":false,"title":null,"grid":true,"bandPosition":0.5}},
  "y":{"field":"pct","type":"quantitative","stack":"zero","scale":{"domain":[-5,105],"nice":false,"zero":false},"axis":{"orient":"right","values":[0,25,50,75,100],"labels":false,"ticks":false,"grid":true,"title":["Neonatal","oral swab"],"titleAngle":90,"titlePadding":21,"titleY":97}},
  "order":{"field":"level","type":"quantitative","sort":"ascending"},
  "color":{"field":"genus","type":"nominal",
   "scale":{"domain":["Escherichia-Shigella","Heamophilus","Streptococcus","Enterococcus","Staphylococcus","Bacteroides","Lautropia","Leptotrichia","Prevotella 7","Prevotella","Granulicatella","Others","Rothia","Corynebacterium 1","Enterobacteriaceae unassigned","unassigned","Enterobacter","Veillonella","Terrisporobacter","Clostridioides","Clostridium sensu stricto 1","stricto 1","Bifidobacterium","Gemella","Allorhizobium - Neorhizobium - Pararhizobium - Rhizobium","Pararhizobium - Rhizobium","Actinomyces","Acinetobacter","Dolosigranulum","Neisseria"],
    "range":["#174A7C","#851111","#FF4672","#EF7E7E","#F8C8B7","#C8AA8A","#9B3FD6","#EE1CEE","#FF6AD2","#FFAEE0","#B7A8FA","#ECECEE","#F3F1DE","#FFFCD6","#F8DDB2","rgba(0,0,0,0)","#FFBC86","#D8A124","#C3E8E1","#1CD2DC","#33B4C4","rgba(0,0,0,0)","#237B80","#164A52","#1776E6","rgba(0,0,0,0)","#1ECFF2","#8DEDE4","#94A6B5","#617C87"]}}
 }},
{"transform":[{"filter":"datum.type=='Neonatal fecal sample' && datum.group=='+IAP CS'"}],
 "width":{"step":34.8},"height":264,
 "mark":{"type":"bar","stroke":"#FFFFFF","strokeWidth":0.6},
 "encoding":{
  "x":{"field":"sample","type":"ordinal","scale":{"paddingInner":0.1,"paddingOuter":0.15},"axis":{"labels":false,"ticks":true,"tickSize":7,"tickWidth":1.5,"title":null,"grid":true,"bandPosition":0.5}},
  "y":{"field":"pct","type":"quantitative","stack":"zero","scale":{"domain":[-5,105],"nice":false,"zero":false},"axis":{"values":[0,25,50,75,100],"tickSize":4,"labelPadding":3,"grid":true,"title":null}},
  "order":{"field":"level","type":"quantitative","sort":"ascending"},
  "color":{"field":"genus","type":"nominal",
   "scale":{"domain":["Escherichia-Shigella","Heamophilus","Streptococcus","Enterococcus","Staphylococcus","Bacteroides","Lautropia","Leptotrichia","Prevotella 7","Prevotella","Granulicatella","Others","Rothia","Corynebacterium 1","Enterobacteriaceae unassigned","unassigned","Enterobacter","Veillonella","Terrisporobacter","Clostridioides","Clostridium sensu stricto 1","stricto 1","Bifidobacterium","Gemella","Allorhizobium - Neorhizobium - Pararhizobium - Rhizobium","Pararhizobium - Rhizobium","Actinomyces","Acinetobacter","Dolosigranulum","Neisseria"],
    "range":["#174A7C","#851111","#FF4672","#EF7E7E","#F8C8B7","#C8AA8A","#9B3FD6","#EE1CEE","#FF6AD2","#FFAEE0","#B7A8FA","#ECECEE","#F3F1DE","#FFFCD6","#F8DDB2","rgba(0,0,0,0)","#FFBC86","#D8A124","#C3E8E1","#1CD2DC","#33B4C4","rgba(0,0,0,0)","#237B80","#164A52","#1776E6","rgba(0,0,0,0)","#1ECFF2","#8DEDE4","#94A6B5","#617C87"]}}
 }},
{"transform":[{"filter":"datum.type=='Neonatal fecal sample' && datum.group=='+IAP VD'"}],
 "width":{"step":34.8},"height":264,
 "mark":{"type":"bar","stroke":"#FFFFFF","strokeWidth":0.6},
 "encoding":{
  "x":{"field":"sample","type":"ordinal","scale":{"paddingInner":0.1,"paddingOuter":0.15},"axis":{"labels":false,"ticks":true,"tickSize":7,"tickWidth":1.5,"title":null,"grid":true,"bandPosition":0.5}},
  "y":{"field":"pct","type":"quantitative","stack":"zero","scale":{"domain":[-5,105],"nice":false,"zero":false},"axis":{"values":[0,25,50,75,100],"labels":false,"ticks":false,"grid":true,"title":null}},
  "order":{"field":"level","type":"quantitative","sort":"ascending"},
  "color":{"field":"genus","type":"nominal",
   "scale":{"domain":["Escherichia-Shigella","Heamophilus","Streptococcus","Enterococcus","Staphylococcus","Bacteroides","Lautropia","Leptotrichia","Prevotella 7","Prevotella","Granulicatella","Others","Rothia","Corynebacterium 1","Enterobacteriaceae unassigned","unassigned","Enterobacter","Veillonella","Terrisporobacter","Clostridioides","Clostridium sensu stricto 1","stricto 1","Bifidobacterium","Gemella","Allorhizobium - Neorhizobium - Pararhizobium - Rhizobium","Pararhizobium - Rhizobium","Actinomyces","Acinetobacter","Dolosigranulum","Neisseria"],
    "range":["#174A7C","#851111","#FF4672","#EF7E7E","#F8C8B7","#C8AA8A","#9B3FD6","#EE1CEE","#FF6AD2","#FFAEE0","#B7A8FA","#ECECEE","#F3F1DE","#FFFCD6","#F8DDB2","rgba(0,0,0,0)","#FFBC86","#D8A124","#C3E8E1","#1CD2DC","#33B4C4","rgba(0,0,0,0)","#237B80","#164A52","#1776E6","rgba(0,0,0,0)","#1ECFF2","#8DEDE4","#94A6B5","#617C87"]}}
 }},
{"transform":[{"filter":"datum.type=='Neonatal fecal sample' && datum.group=='-IAP VD'"}],
 "width":{"step":34.8},"height":264,
 "mark":{"type":"bar","stroke":"#FFFFFF","strokeWidth":0.6},
 "encoding":{
  "x":{"field":"sample","type":"ordinal","scale":{"paddingInner":0.1,"paddingOuter":0.15},"axis":{"labels":false,"ticks":true,"tickSize":7,"tickWidth":1.5,"title":null,"grid":true,"bandPosition":0.5}},
  "y":{"field":"pct","type":"quantitative","stack":"zero","scale":{"domain":[-5,105],"nice":false,"zero":false},"axis":{"orient":"right","values":[0,25,50,75,100],"labels":false,"ticks":false,"grid":true,"title":["Neonatal","fecal sample"],"titleAngle":90,"titlePadding":21,"titleY":102}},
  "order":{"field":"level","type":"quantitative","sort":"ascending"},
  "color":{"field":"genus","type":"nominal",
   "scale":{"domain":["Escherichia-Shigella","Heamophilus","Streptococcus","Enterococcus","Staphylococcus","Bacteroides","Lautropia","Leptotrichia","Prevotella 7","Prevotella","Granulicatella","Others","Rothia","Corynebacterium 1","Enterobacteriaceae unassigned","unassigned","Enterobacter","Veillonella","Terrisporobacter","Clostridioides","Clostridium sensu stricto 1","stricto 1","Bifidobacterium","Gemella","Allorhizobium - Neorhizobium - Pararhizobium - Rhizobium","Pararhizobium - Rhizobium","Actinomyces","Acinetobacter","Dolosigranulum","Neisseria"],
    "range":["#174A7C","#851111","#FF4672","#EF7E7E","#F8C8B7","#C8AA8A","#9B3FD6","#EE1CEE","#FF6AD2","#FFAEE0","#B7A8FA","#ECECEE","#F3F1DE","#FFFCD6","#F8DDB2","rgba(0,0,0,0)","#FFBC86","#D8A124","#C3E8E1","#1CD2DC","#33B4C4","rgba(0,0,0,0)","#237B80","#164A52","#1776E6","rgba(0,0,0,0)","#1ECFF2","#8DEDE4","#94A6B5","#617C87"]}}
 }},
{"data":{"name":"stool"},
 "transform":[{"filter":"datum.group=='+IAP CS'"}],
 "width":{"step":34.8},"height":34,
 "view":{"stroke":null,"fill":null},
 "mark":{"type":"bar","stroke":"#555555","strokeWidth":2},
 "encoding":{
  "x":{"field":"sample","type":"ordinal","scale":{"paddingInner":0.1,"paddingOuter":0.15},"axis":null},
  "y":{"datum":"box","type":"nominal","scale":{"paddingInner":0,"paddingOuter":0.21,"align":1},"axis":null},
  "fill":{"field":"stool","type":"nominal","scale":{"domain":["Meconium","Transitional stool"],"range":["#FFFFFF","#000000"]},
   "legend":{"title":null,"orient":"none","legendX":-2,"legendY":901,"symbolType":"M-1,-0.67H1V0.67H-1Z","symbolSize":1296,"symbolStrokeColor":"#333333","symbolStrokeWidth":2,"labelFontSize":33,"labelColor":"#000000","labelOffset":12,"labelLimit":1000,"rowPadding":21,"labelExpr":"datum.value == 'Transitional stool' ? ['Transitional', 'stool'] : datum.label","encode":{"labels":{"update":{"lineHeight":{"value":38}}}}}}
 }},
{"data":{"name":"stool"},
 "transform":[{"filter":"datum.group=='+IAP VD'"}],
 "width":{"step":34.8},"height":34,
 "view":{"stroke":null,"fill":null},
 "mark":{"type":"bar","stroke":"#555555","strokeWidth":2},
 "encoding":{
  "x":{"field":"sample","type":"ordinal","scale":{"paddingInner":0.1,"paddingOuter":0.15},"axis":null},
  "y":{"datum":"box","type":"nominal","scale":{"paddingInner":0,"paddingOuter":0.21,"align":1},"axis":null},
  "fill":{"field":"stool","type":"nominal","scale":{"domain":["Meconium","Transitional stool"],"range":["#FFFFFF","#000000"]}}
 }},
{"data":{"name":"stool"},
 "transform":[{"filter":"datum.group=='-IAP VD'"}],
 "width":{"step":34.8},"height":34,
 "view":{"stroke":null,"fill":null},
 "mark":{"type":"bar","stroke":"#555555","strokeWidth":2},
 "encoding":{
  "x":{"field":"sample","type":"ordinal","scale":{"paddingInner":0.1,"paddingOuter":0.15},"axis":null},
  "y":{"datum":"box","type":"nominal","scale":{"paddingInner":0,"paddingOuter":0.21,"align":1},"axis":null},
  "fill":{"field":"stool","type":"nominal","scale":{"domain":["Meconium","Transitional stool"],"range":["#FFFFFF","#000000"]}}
 }}
]
}
